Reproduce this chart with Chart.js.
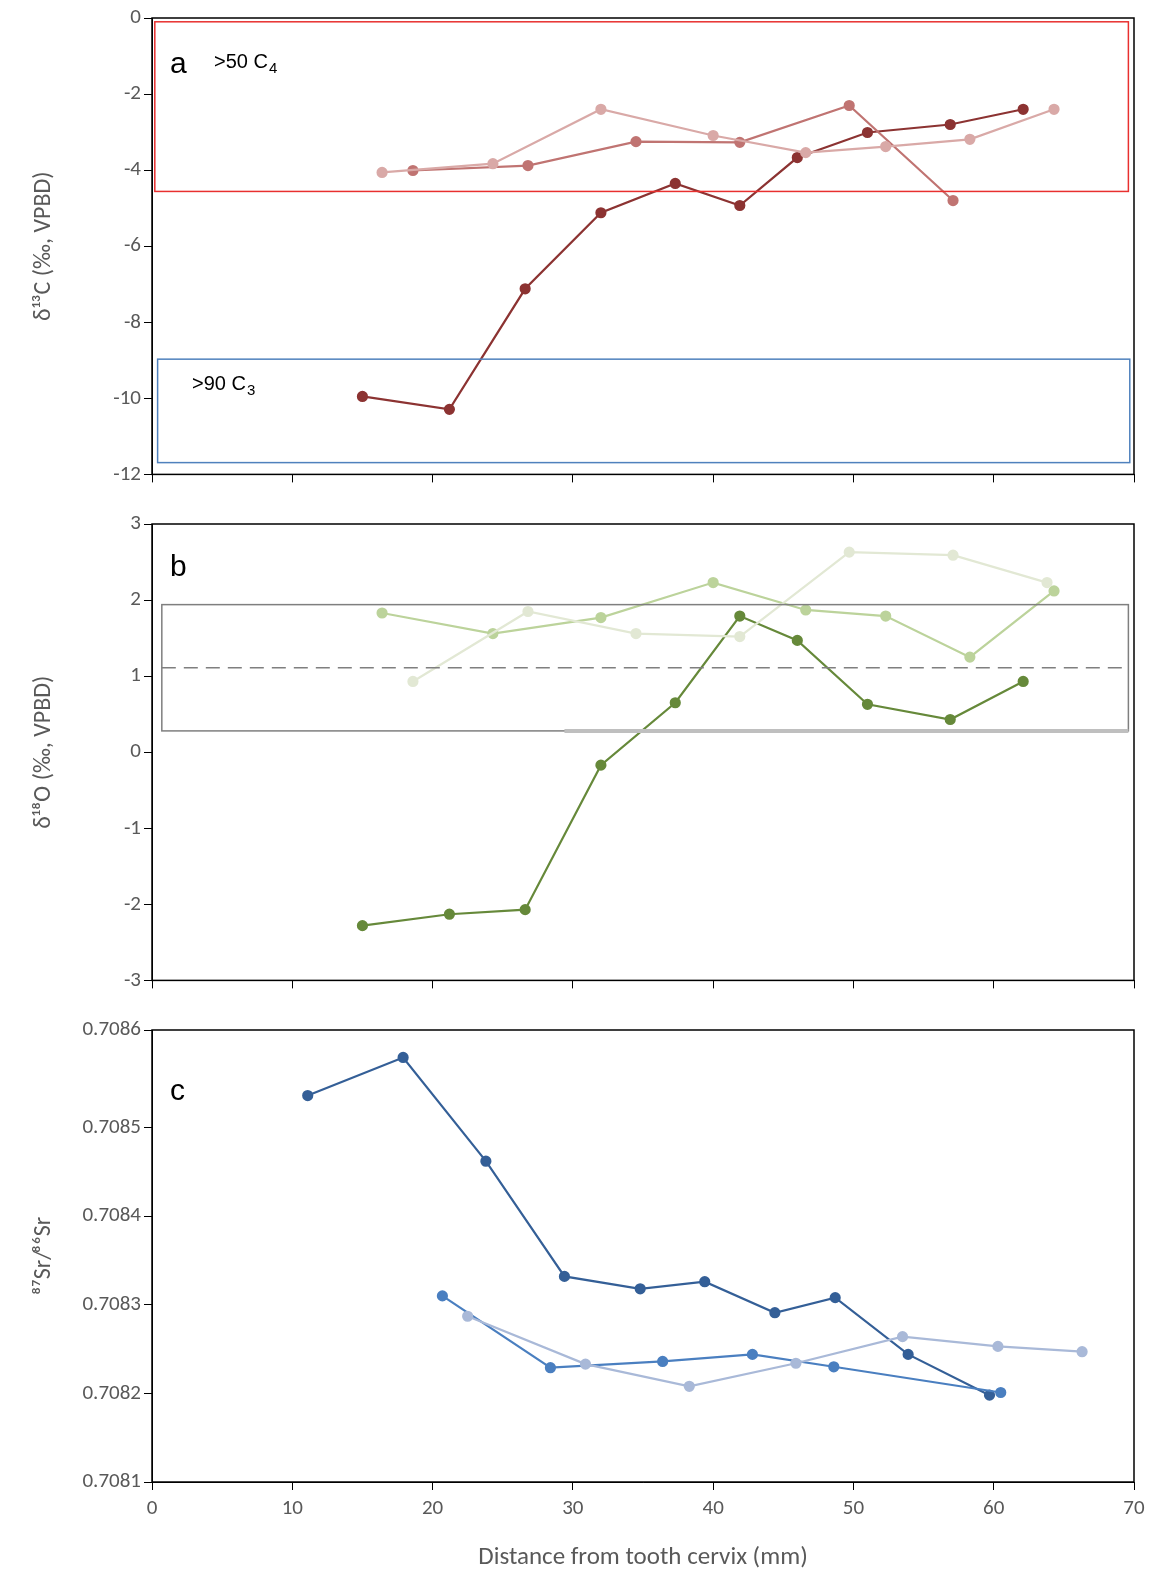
<!DOCTYPE html>
<html><head><meta charset="utf-8">
<script src="https://cdn.jsdelivr.net/npm/chart.js@4/dist/chart.umd.min.js"></script>
<style>body{margin:0;background:#fff}.p{position:absolute;left:0;width:1166px}</style>
</head><body>
<div class="p" style="top:0;height:490px"><canvas id="ca"></canvas></div>
<div class="p" style="top:490px;height:506px"><canvas id="cb"></canvas></div>
<div class="p" style="top:996px;height:581px"><canvas id="cc"></canvas></div>
<script>
// panel a: d13C
const cA1x=[15.0,21.2,26.6,32.0,37.3,41.9,46.0,51.0,56.9,62.1]
const cA1y=[-9.95,-10.29,-7.12,-5.12,-4.35,-4.93,-3.67,-3.01,-2.80,-2.40]
const cA2x=[18.6,26.8,34.5,41.9,49.7,57.1]
const cA2y=[-4.01,-3.88,-3.25,-3.27,-2.30,-4.80]
const cA3x=[16.4,24.3,32.0,40.0,46.6,52.3,58.3,64.3]
const cA3y=[-4.06,-3.83,-2.40,-3.09,-3.54,-3.38,-3.19,-2.40]
// panel b: d18O
const oB1x=[15.0,21.2,26.6,32.0,37.3,41.9,46.0,51.0,56.9,62.1]
const oB1y=[-2.28,-2.13,-2.07,-0.17,0.65,1.79,1.47,0.63,0.43,0.93]
const oB2x=[16.4,24.3,32.0,40.0,46.6,52.3,58.3,64.3]
const oB2y=[1.83,1.56,1.77,2.23,1.87,1.79,1.25,2.12]
const oB3x=[18.6,26.8,34.5,41.9,49.7,57.1,63.8]
const oB3y=[0.93,1.85,1.56,1.52,2.63,2.59,2.23]
// panel c: Sr
const sC1x=[11.1,17.9,23.8,29.4,34.8,39.4,44.4,48.7,53.9,59.7]
const sC1y=[0.708536,0.708579,0.708462,0.708332,0.708318,0.708326,0.708291,0.708308,0.708244,0.708198]
const sC2x=[20.7,28.4,36.4,42.8,48.6,60.5]
const sC2y=[0.708310,0.708229,0.708236,0.708244,0.708230,0.708201]
const sC3x=[22.5,30.9,38.3,45.9,53.5,60.3,66.3]
const sC3y=[0.708287,0.708233,0.708208,0.708234,0.708264,0.708253,0.708247]
// boxes [x0,x1,y0,y1]
const boxC4=[0.2,69.6,-0.1,-4.56]
const boxC3=[0.4,69.7,-8.97,-11.69]
const boxO=[0.7,69.6,1.94,0.28]
const dashO=1.11
const thickO=[29.4,69.6,0.28]

const pts=(xs,ys)=>xs.map((x,i)=>({x:x,y:ys[i]}))
const ds=(xs,ys,c)=>({data:pts(xs,ys),borderColor:c,backgroundColor:c,borderWidth:2.2,pointRadius:4.5,pointHoverRadius:4.5,tension:0})
const tickFont={family:'Calibri, Carlito, "Open Sans", sans-serif',size:21}
const gc='#595959'

const frame={id:'frame',afterDraw(ch,a,o){
  const c=ch.ctx,s=ch.scales,ar=ch.chartArea
  c.save()
  const X=v=>s.x.getPixelForValue(v),Y=v=>s.y.getPixelForValue(v)
  ;(o.boxes||[]).forEach(b=>{c.strokeStyle=b.c;c.lineWidth=1.5;c.strokeRect(X(b.r[0]),Y(b.r[2]),X(b.r[1])-X(b.r[0]),Y(b.r[3])-Y(b.r[2]))})
  if(o.dash!=null){c.strokeStyle='#7f7f7f';c.lineWidth=1.5;c.setLineDash([14,8]);c.beginPath();c.moveTo(X(boxO[0]),Y(o.dash));c.lineTo(X(boxO[1]),Y(o.dash));c.stroke();c.setLineDash([])}
  if(o.thick){c.strokeStyle='#bfbfbf';c.lineWidth=4;c.beginPath();c.moveTo(X(o.thick[0]),Y(o.thick[2]));c.lineTo(X(o.thick[1]),Y(o.thick[2]));c.stroke()}
  c.strokeStyle='#000';c.lineWidth=1.5;c.strokeRect(ar.left,ar.top,ar.right-ar.left,ar.bottom-ar.top)
  c.fillStyle='#000'
  ;(o.texts||[]).forEach(t=>{c.font=t.f+'px "Liberation Sans", Arial, sans-serif';c.textBaseline='middle';c.fillText(t.s,t.x,t.y)
    if(t.sub){const w=c.measureText(t.s).width;c.font='15px "Liberation Sans", Arial, sans-serif';c.fillText(t.sub,t.x+w+1,t.y+7)}})
  c.restore()
}}

function mk(id,sets,ymin,ymax,step,title,showX,pad,xh,fmt,opt){
  new Chart(document.getElementById(id),{type:'line',data:{datasets:sets},
    options:{responsive:true,maintainAspectRatio:false,animation:false,
      layout:{padding:{top:pad,right:32,left:26,bottom:0}},
      plugins:{legend:{display:false},tooltip:{enabled:false},frame:opt},
      scales:{
        x:{type:'linear',min:0,max:70,ticks:{stepSize:10,display:showX,color:gc,font:tickFont,padding:6},
          grid:{drawOnChartArea:false,color:'#000',tickLength:8,tickColor:'#000'},border:{color:'#000'},
          title:{display:showX,text:'Distance from tooth cervix (mm)',color:gc,font:{family:tickFont.family,size:25},padding:{top:16}},
          afterFit(s){s.height=xh}},
        y:{min:ymin,max:ymax,ticks:{stepSize:step,color:gc,font:tickFont,callback:fmt},
          grid:{drawOnChartArea:false,color:'#000',tickLength:8},border:{color:'#000'},
          title:{display:true,text:title,color:gc,font:{family:tickFont.family,size:24}},
          afterFit(s){s.width=126}}
      }},plugins:[frame]})
}

mk('ca',[ds(cA3x,cA3y,'#d9a9a7'),ds(cA2x,cA2y,'#c07472'),ds(cA1x,cA1y,'#8c3332')],-12,0,2,'δ¹³C (‰, VPBD)',false,18,11,v=>v,
  {boxes:[{r:boxC4,c:'#e8302f'},{r:boxC3,c:'#4f81bd'}],texts:[{s:'a',x:170,y:65,f:30},{s:'>50 C',sub:'4',x:214,y:62,f:20},{s:'>90 C',sub:'3',x:192,y:384,f:20}]})
mk('cb',[ds(oB3x,oB3y,'#e2e8d4'),ds(oB2x,oB2y,'#bcd39b'),ds(oB1x,oB1y,'#66893a')],-3,3,1,'δ¹⁸O (‰, VPBD)',false,34,5,v=>v,
  {boxes:[{r:boxO,c:'#7f7f7f'}],dash:dashO,thick:thickO,texts:[{s:'b',x:170,y:78,f:30}]})
mk('cc',[ds(sC3x,sC3y,'#a9b9d8'),ds(sC2x,sC2y,'#4a7fc0'),ds(sC1x,sC1y,'#345f97')],0.7081,0.70861,0.0001,'⁸⁷Sr/⁸⁶Sr',true,34,95,v=>v.toFixed(4),
  {texts:[{s:'c',x:170,y:96,f:30}]})
</script>
</body></html>
